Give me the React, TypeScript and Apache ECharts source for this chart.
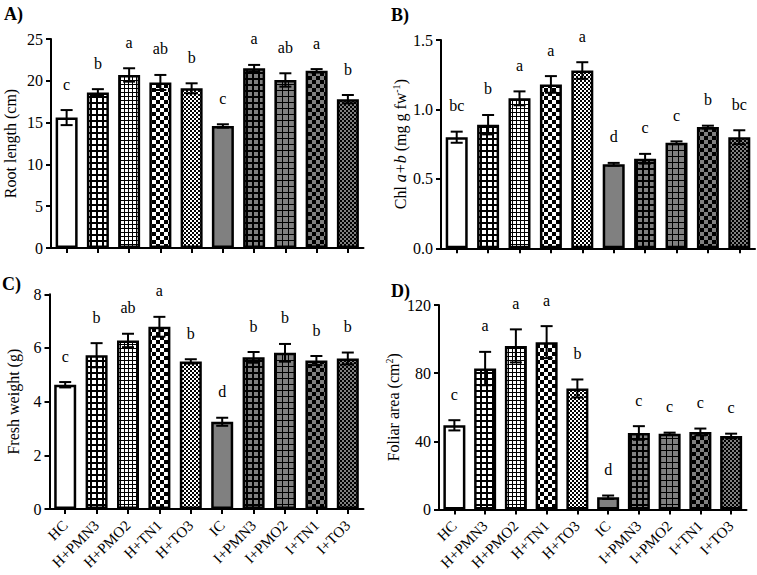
import React, { useEffect, useRef } from 'react';
import * as echarts from 'echarts';

const categories = ['HC', 'H+PMN3', 'H+PMO2', 'H+TN1', 'H+TO3', 'IC', 'I+PMN3', 'I+PMO2', 'I+TN1', 'I+TO3'];

const rootMean = [15.6, 18.6, 20.7, 19.8, 19.1, 14.6, 21.5, 20.1, 21.2, 17.8];
const rootSd = [0.9, 0.4, 0.8, 0.9, 0.6, 0.2, 0.4, 0.8, 0.2, 0.5];
const rootLetters = ['c', 'b', 'a', 'ab', 'b', 'c', 'a', 'ab', 'a', 'b'];
const rootTicks = [0, 5, 10, 15, 20, 25];

const chlMean = [0.8, 0.89, 1.08, 1.18, 1.28, 0.605, 0.645, 0.76, 0.873, 0.8];
const chlSd = [0.04, 0.07, 0.05, 0.06, 0.06, 0.01, 0.035, 0.01, 0.01, 0.05];
const chlLetters = ['bc', 'b', 'a', 'a', 'a', 'd', 'c', 'c', 'b', 'bc'];
const chlTicks = [0, 0.5, 1.0, 1.5];

const fwMean = [4.63, 5.73, 6.28, 6.79, 5.5, 3.25, 5.65, 5.82, 5.53, 5.61];
const fwSd = [0.1, 0.45, 0.25, 0.37, 0.08, 0.15, 0.2, 0.33, 0.17, 0.22];
const fwLetters = ['c', 'b', 'ab', 'a', 'b', 'd', 'b', 'b', 'b', 'b'];
const fwTicks = [0, 2, 4, 6, 8];

const faMean = [49.4, 82.7, 96.0, 98.2, 71.0, 7.2, 44.9, 44.5, 45.5, 43.1];
const faSd = [3.0, 9.8, 9.7, 9.4, 5.3, 1.0, 4.0, 0.6, 2.0, 1.4];
const faLetters = ['c', 'a', 'a', 'a', 'b', 'd', 'c', 'c', 'c', 'c'];
const faTicks = [0, 40, 80, 120];

const FONT = 'Liberation Serif';
const GRAY = '#808080';

function tile(size: number, draw: (ctx: CanvasRenderingContext2D) => void): any {
  const c = document.createElement('canvas');
  c.width = size;
  c.height = size;
  const ctx = c.getContext('2d') as CanvasRenderingContext2D;
  draw(ctx);
  return { image: c.toDataURL(), repeat: 'repeat', imageWidth: size, imageHeight: size };
}

function squaresOnBlack(bg: string) {
  return tile(6, (ctx) => {
    ctx.fillStyle = '#000';
    ctx.fillRect(0, 0, 6, 6);
    ctx.fillStyle = bg;
    ctx.fillRect(2, 2, 4, 4);
  });
}
function thinGrid(bg: string, size: number) {
  return tile(size, (ctx) => {
    ctx.fillStyle = bg;
    ctx.fillRect(0, 0, size, size);
    ctx.fillStyle = '#000';
    ctx.fillRect(0, 0, size, 1);
    ctx.fillRect(0, 0, 1, size);
  });
}
function checker(bg: string, cell: number) {
  const s = cell * 2;
  return tile(s, (ctx) => {
    ctx.fillStyle = bg;
    ctx.fillRect(0, 0, s, s);
    ctx.fillStyle = '#000';
    ctx.fillRect(0, 0, cell, cell);
    ctx.fillRect(cell, cell, cell, cell);
  });
}

function makePatterns() {
  return [
    '#ffffff',
    squaresOnBlack('#ffffff'),
    thinGrid('#ffffff', 4),
    checker('#ffffff', 4),
    checker('#ffffff', 2),
    GRAY,
    squaresOnBlack(GRAY),
    thinGrid(GRAY, 6),
    checker(GRAY, 4),
    checker(GRAY, 2),
  ];
}

export default function App() {
  const ref = useRef<HTMLDivElement>(null);
  useEffect(() => {
    if (!ref.current) return;
    const chart = echarts.init(ref.current, undefined, { renderer: 'svg' });
    const patterns = makePatterns();

    const panels = [
      { grid: { left: 49.5, top: 39, width: 314, height: 209 }, mean: rootMean, sd: rootSd, letters: rootLetters, ticks: rootTicks,
        name: 'Root length (cm)', gap: 32, showX: false, fmt: (v: number) => String(v) },
      { grid: { left: 441, top: 40, width: 314, height: 208.3 }, mean: chlMean, sd: chlSd, letters: chlLetters, ticks: chlTicks,
        name: 'Chl {i|a+b} (mg g fw{sup|-1})', gap: 31, showX: false, fmt: (v: number) => v.toFixed(1) },
      { grid: { left: 49.5, top: 294.3, width: 314, height: 214.7 }, mean: fwMean, sd: fwSd, letters: fwLetters, ticks: fwTicks,
        name: 'Fresh weight (g)', gap: 27, showX: true, fmt: (v: number) => String(v) },
      { grid: { left: 439, top: 305, width: 307.5, height: 204.5 }, mean: faMean, sd: faSd, letters: faLetters, ticks: faTicks,
        name: 'Foliar area (cm{sup|2})', gap: 37, showX: true, fmt: (v: number) => String(v) },
    ];

    const grid: any[] = [];
    const xAxis: any[] = [];
    const yAxis: any[] = [];
    const series: any[] = [];

    panels.forEach((p, idx) => {
      grid.push(p.grid);
      xAxis.push({
        type: 'category',
        gridIndex: idx,
        data: categories,
        boundaryGap: true,
        axisLine: { show: true, lineStyle: { color: '#000', width: 2 } },
        axisTick: { show: true, alignWithLabel: true, length: 5, interval: 0, lineStyle: { color: '#000', width: 2 } },
        axisLabel: {
          show: p.showX, rotate: 45, interval: 0, margin: 14,
          fontFamily: FONT, fontSize: 15, color: '#000',
        },
        splitLine: { show: false },
      });
      const tks = p.ticks;
      yAxis.push({
        type: 'value',
        gridIndex: idx,
        min: tks[0],
        max: tks[tks.length - 1],
        interval: tks[1] - tks[0],
        axisLine: { show: true, lineStyle: { color: '#000', width: 2 } },
        axisTick: { show: true, length: 5, lineStyle: { color: '#000', width: 2 } },
        splitLine: { show: false },
        axisLabel: { formatter: p.fmt, margin: 8, fontFamily: FONT, fontSize: 16, color: '#000' },
        name: p.name,
        nameLocation: 'middle',
        nameRotate: 90,
        nameGap: p.gap,
        nameTextStyle: {
          fontFamily: FONT, fontSize: 16, color: '#000', lineHeight: 18,
          rich: {
            i: { fontFamily: FONT, fontSize: 16, fontStyle: 'italic', color: '#000', lineHeight: 18 },
            sup: { fontFamily: FONT, fontSize: 10, color: '#000', verticalAlign: 'top', lineHeight: 10 },
          },
        },
      });
      series.push({
        type: 'bar',
        xAxisIndex: idx,
        yAxisIndex: idx,
        barWidth: 22,
        z: 2,
        itemStyle: { borderColor: '#000', borderWidth: 2.5 },
        data: p.mean.map((v, i) => ({ value: v, itemStyle: { color: patterns[i] } })),
      });
      series.push({
        type: 'custom',
        xAxisIndex: idx,
        yAxisIndex: idx,
        z: 3,
        clip: false,
        encode: { x: 0, y: 1 },
        data: p.mean.map((v, i) => [i, v, p.sd[i]]),
        renderItem: (params: any, api: any) => {
          const i = api.value(0);
          const m = api.value(1);
          const s = api.value(2);
          const top = api.coord([i, m + s]);
          const bot = api.coord([i, m - s]);
          const hw = 6;
          const st = { stroke: '#000', lineWidth: 2 };
          return {
            type: 'group',
            children: [
              { type: 'line', shape: { x1: top[0], y1: top[1], x2: bot[0], y2: bot[1] }, style: st },
              { type: 'line', shape: { x1: top[0] - hw, y1: top[1], x2: top[0] + hw, y2: top[1] }, style: st },
              { type: 'line', shape: { x1: bot[0] - hw, y1: bot[1], x2: bot[0] + hw, y2: bot[1] }, style: st },
              {
                type: 'text',
                x: top[0],
                y: top[1] - 18,
                style: {
                  text: p.letters[params.dataIndex],
                  font: '16px Liberation Serif',
                  fill: '#000',
                  align: 'center',
                  verticalAlign: 'bottom',
                },
              },
            ],
          };
        },
      });
    });

    const titleStyle = (t: string) => ({ text: t, font: 'bold 18px Liberation Serif', fill: '#000' });
    chart.setOption({
      animation: false,
      backgroundColor: '#fff',
      grid,
      xAxis,
      yAxis,
      series,
      graphic: [
        { type: 'text', left: 4, top: 5, style: titleStyle('A)') },
        { type: 'text', left: 391, top: 6, style: titleStyle('B)') },
        { type: 'text', left: 2, top: 275, style: titleStyle('C)') },
        { type: 'text', left: 391, top: 282, style: titleStyle('D)') },
      ],
    });
    return () => chart.dispose();
  }, []);
  return <div ref={ref} style={{ position: 'fixed', left: 0, top: 0, width: 757, height: 575 }} />;
}
